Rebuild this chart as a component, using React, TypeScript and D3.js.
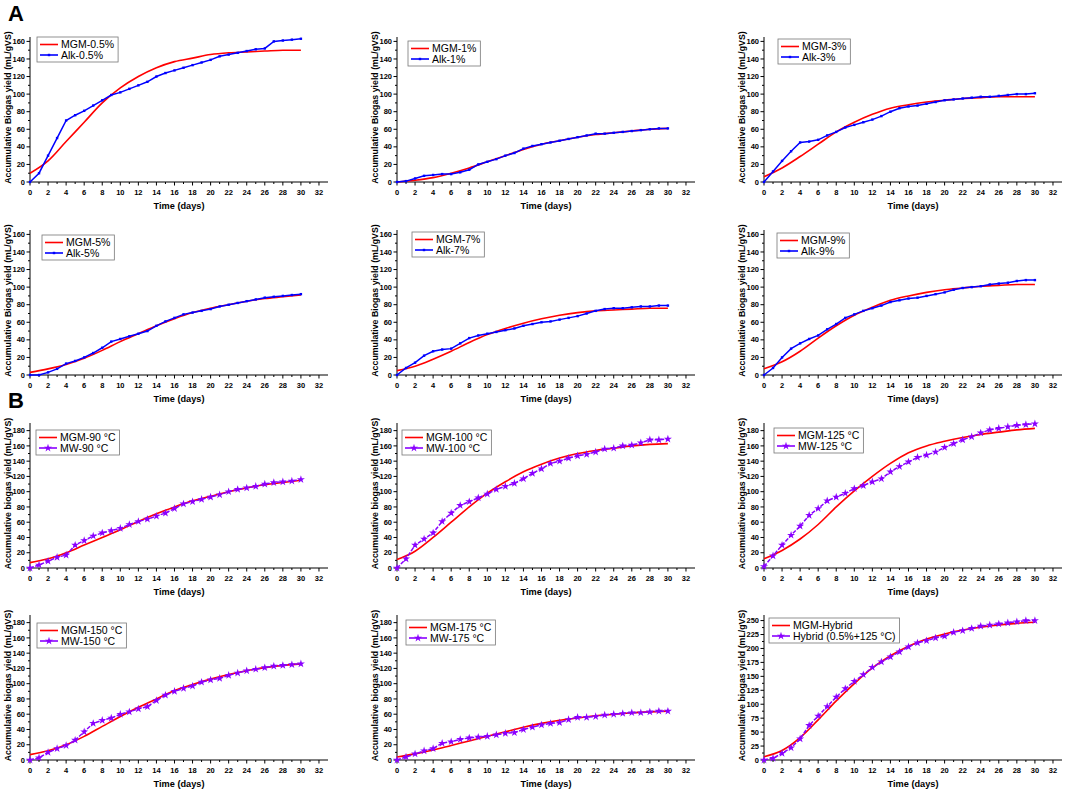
import * as d3 from "d3";

const W = 1065;
const H = 790;

// daily sampling days for the measured series, every other day for the fitted model
const days = [0, 1, 2, 3, 4, 5, 6, 7, 8, 9, 10, 11, 12, 13, 14, 15, 16, 17, 18, 19, 20, 21, 22, 23, 24, 25, 26, 27, 28, 29, 30];
const modelDays = [0, 2, 4, 6, 8, 10, 12, 14, 16, 18, 20, 22, 24, 26, 28, 30];

const xTicks = [0, 2, 4, 6, 8, 10, 12, 14, 16, 18, 20, 22, 24, 26, 28, 30, 32];
const yTicksA = [0, 20, 40, 60, 80, 100, 120, 140, 160];
const yTicksB = [0, 20, 40, 60, 80, 100, 120, 140, 160, 180];
const yTicksHybrid = [0, 25, 50, 75, 100, 125, 150, 175, 200, 225, 250];

// A: alkaline pretreatment
const alk05 = [0, 10, 30, 50, 70, 76, 81, 87, 93, 99, 102, 106, 110, 114, 120, 124, 127, 130, 133, 136, 139, 143, 145, 147, 149, 151, 152, 160, 161, 162, 163];
const mgm05 = [10, 24, 46, 68, 90, 107, 120, 130, 137, 141, 145, 147, 148, 149, 150, 150];
const alk1 = [0, 1, 4, 7, 8, 9, 9, 11, 14, 20, 23, 26, 30, 33, 38, 41, 43, 45, 47, 49, 51, 53, 55, 55, 56, 57, 58, 59, 60, 61, 61];
const mgm1 = [0, 2, 5, 10, 16, 23, 30, 37, 43, 47, 51, 54, 56, 58, 60, 61];
const alk3 = [0, 12, 24, 35, 45, 46, 48, 53, 57, 62, 65, 68, 71, 75, 80, 84, 86, 87, 89, 91, 93, 94, 95, 96, 97, 97, 98, 99, 100, 100, 101];
const mgm3 = [6, 16, 29, 43, 57, 68, 77, 84, 88, 91, 93, 95, 96, 97, 97, 97];
const alk5 = [0, 0, 3, 7, 13, 16, 20, 25, 31, 38, 41, 44, 47, 50, 56, 61, 65, 69, 71, 73, 75, 78, 80, 82, 84, 86, 88, 89, 90, 91, 92];
const mgm5 = [3, 7, 12, 19, 28, 38, 47, 56, 64, 71, 76, 80, 84, 87, 89, 91];
const alk7 = [0, 8, 14, 22, 27, 29, 30, 36, 42, 45, 47, 49, 51, 53, 56, 58, 60, 61, 63, 65, 67, 70, 73, 75, 76, 76, 77, 78, 78, 79, 79];
const mgm7 = [5, 10, 18, 27, 37, 46, 53, 59, 64, 68, 71, 73, 74, 75, 76, 76];
const alk9 = [0, 8, 20, 30, 36, 41, 45, 52, 58, 65, 69, 73, 76, 79, 83, 85, 87, 88, 90, 92, 94, 97, 99, 100, 101, 103, 104, 105, 107, 108, 108];
const mgm9 = [7, 15, 27, 42, 56, 68, 77, 85, 90, 94, 97, 99, 101, 102, 103, 103];

// B: microwave pretreatment
const mw90 = [0, 4, 9, 14, 17, 30, 36, 42, 46, 49, 52, 57, 61, 64, 68, 72, 78, 84, 87, 90, 93, 96, 100, 103, 105, 107, 110, 112, 113, 114, 116];
const mgm90 = [7, 12, 20, 30, 40, 50, 61, 71, 80, 88, 94, 100, 105, 109, 112, 115];
const mw100 = [0, 12, 30, 38, 46, 61, 72, 82, 87, 92, 97, 103, 107, 111, 117, 124, 130, 137, 140, 144, 147, 149, 152, 156, 157, 160, 161, 164, 168, 168, 169];
const mgm100 = [11, 22, 40, 60, 80, 98, 113, 126, 136, 144, 150, 154, 157, 160, 162, 163];
const mw125 = [2, 16, 30, 43, 55, 69, 78, 88, 93, 98, 104, 108, 113, 117, 126, 133, 139, 145, 148, 152, 158, 163, 168, 172, 177, 181, 183, 185, 187, 188, 189];
const mgm125 = [12, 23, 38, 57, 80, 101, 120, 137, 151, 160, 166, 171, 175, 178, 181, 183];
const mw150 = [0, 3, 10, 15, 19, 26, 37, 48, 52, 55, 60, 63, 67, 70, 78, 85, 90, 94, 97, 102, 105, 107, 111, 114, 117, 119, 121, 123, 124, 125, 126];
const mgm150 = [7, 12, 20, 31, 44, 57, 69, 80, 91, 99, 106, 112, 117, 121, 124, 126];
const mw175 = [0, 4, 8, 12, 15, 22, 24, 27, 29, 30, 31, 33, 35, 36, 40, 43, 46, 48, 49, 53, 56, 56, 57, 59, 60, 61, 62, 62, 63, 64, 64];
const mgm175 = [4, 8, 13, 19, 25, 31, 37, 43, 48, 52, 55, 58, 60, 62, 63, 64];
const hybrid = [0, 3, 12, 22, 38, 62, 79, 96, 113, 128, 141, 153, 166, 176, 185, 194, 203, 210, 214, 219, 222, 229, 232, 236, 240, 242, 244, 246, 248, 250, 250];
const mgmHybrid = [6, 17, 40, 72, 106, 137, 165, 187, 204, 217, 226, 233, 238, 242, 245, 247];

const panels = [
  { exp: alk05, model: mgm05, expName: "Alk-0.5%", modelName: "MGM-0.5%", group: "A", lx: 7, ly: 0 },
  { exp: alk1, model: mgm1, expName: "Alk-1%", modelName: "MGM-1%", group: "A", lx: 11, ly: 4 },
  { exp: alk3, model: mgm3, expName: "Alk-3%", modelName: "MGM-3%", group: "A", lx: 14, ly: 2 },
  { exp: alk5, model: mgm5, expName: "Alk-5%", modelName: "MGM-5%", group: "A", lx: 12, ly: 5 },
  { exp: alk7, model: mgm7, expName: "Alk-7%", modelName: "MGM-7%", group: "A", lx: 15, ly: 2 },
  { exp: alk9, model: mgm9, expName: "Alk-9%", modelName: "MGM-9%", group: "A", lx: 13, ly: 3 },
  { exp: mw90, model: mgm90, expName: "MW-90 °C", modelName: "MGM-90 °C", group: "B", lx: 6, ly: 7 },
  { exp: mw100, model: mgm100, expName: "MW-100 °C", modelName: "MGM-100 °C", group: "B", lx: 5, ly: 7 },
  { exp: mw125, model: mgm125, expName: "MW-125 °C", modelName: "MGM-125 °C", group: "B", lx: 10, ly: 5 },
  { exp: mw150, model: mgm150, expName: "MW-150 °C", modelName: "MGM-150 °C", group: "B", lx: 7, ly: 8 },
  { exp: mw175, model: mgm175, expName: "MW-175 °C", modelName: "MGM-175 °C", group: "B", lx: 9, ly: 5 },
  { exp: hybrid, model: mgmHybrid, expName: "Hybrid (0.5%+125 °C)", modelName: "MGM-Hybrid", group: "H", lx: 5, ly: 3 },
];

const colX = [30, 397, 764];
const rowBottom = [182, 375, 568, 760];
const plotW = 298;
const plotH = 145;

const font = "Arial, 'Liberation Sans', sans-serif";
const red = "#ff0000";
const blue = "#0000ff";
const violet = "#8a00ff";

let ctx: CanvasRenderingContext2D | null = null;
function textWidth(s: string, f: string) {
  if (!ctx) ctx = document.createElement("canvas").getContext("2d");
  if (!ctx) return s.length * 5.5;
  ctx.font = f;
  return ctx.measureText(s).width;
}

const Panel = ({ p, i }: { p: any; i: number }) => {
  const col = i % 3;
  const row = Math.floor(i / 3);
  const left = colX[col];
  const bottom = rowBottom[row];
  const yTicks = p.group === "A" ? yTicksA : p.group === "B" ? yTicksB : yTicksHybrid;
  const yMax = p.group === "A" ? 165 : p.group === "B" ? 190 : 260;
  const step = yTicks[1] - yTicks[0];
  const x = d3.scaleLinear([0, 33], [left, left + plotW]);
  const y = d3.scaleLinear([0, yMax], [bottom, bottom - plotH]);
  const expColor = p.group === "A" ? blue : violet;

  const modelLine = d3
    .line<number>()
    .x((_, k) => x(modelDays[k]))
    .y((d) => y(d))
    .curve(d3.curveMonotoneX);
  const expLine = d3
    .line<number>()
    .x((_, k) => x(days[k]))
    .y((d) => y(d));

  const yMinor = yTicks.slice(0, -1).map((t) => t + step / 2).filter((t) => t < yMax);
  const xMinor = xTicks.map((t) => t + 1).filter((t) => t < 33);
  const star = d3.symbol(d3.symbolStar, 20)() as string;

  const lf = `10.5px ${font}`;
  const lw = 28 + Math.max(textWidth(p.expName, lf), textWidth(p.modelName, lf));
  const lx0 = left + p.lx;
  const ly0 = bottom - plotH + p.ly;

  const ylabel =
    p.group === "A" ? "Accumulative Biogas yield (mL/gVS)" : "Accumulative biogas yield (mL/gVS)";

  return (
    <g fontFamily={font}>
      {/* axes */}
      <line x1={left} x2={left} y1={bottom} y2={bottom - plotH} stroke="#000" strokeWidth={1} />
      <line x1={left} x2={left + plotW} y1={bottom} y2={bottom} stroke="#000" strokeWidth={1} />
      {yTicks.map((t) => (
        <g key={"y" + t}>
          <line x1={left - 3.5} x2={left} y1={y(t)} y2={y(t)} stroke="#000" />
          <text x={left - 5} y={y(t)} dy="0.35em" textAnchor="end" fontSize={7.5} fontWeight="bold">
            {t}
          </text>
        </g>
      ))}
      {yMinor.map((t) => (
        <line key={"ym" + t} x1={left - 2} x2={left} y1={y(t)} y2={y(t)} stroke="#000" />
      ))}
      {xTicks.map((t) => (
        <g key={"x" + t}>
          <line x1={x(t)} x2={x(t)} y1={bottom} y2={bottom + 3.5} stroke="#000" />
          <text x={x(t)} y={bottom + 12.5} textAnchor="middle" fontSize={7.5} fontWeight="bold">
            {t}
          </text>
        </g>
      ))}
      {xMinor.map((t) => (
        <line key={"xm" + t} x1={x(t)} x2={x(t)} y1={bottom} y2={bottom + 2} stroke="#000" />
      ))}
      <text
        x={left + 149}
        y={bottom + 26.5}
        textAnchor="middle"
        fontSize={9.2}
        fontWeight="bold"
      >
        Time (days)
      </text>
      <text
        transform={`translate(${left - 19.5},${bottom - plotH / 2 - 2}) rotate(-90)`}
        textAnchor="middle"
        fontSize={8.8}
        fontWeight="bold"
      >
        {ylabel}
      </text>

      {/* model fit */}
      <path d={modelLine(p.model) as string} fill="none" stroke={red} strokeWidth={1.6} />
      {/* measured */}
      <path
        d={expLine(p.exp) as string}
        fill="none"
        stroke={expColor}
        strokeWidth={1.5}
        strokeDasharray={p.group === "A" ? undefined : "4,1.5"}
      />
      {p.exp.map((v: number, k: number) =>
        p.group === "A" ? (
          <rect key={k} x={x(days[k]) - 1.2} y={y(v) - 1.2} width={2.4} height={2.4} fill={expColor} />
        ) : (
          <path key={k} d={star} transform={`translate(${x(days[k])},${y(v)})`} fill={expColor} />
        )
      )}

      {/* legend */}
      <rect x={lx0} y={ly0} width={lw} height={25} fill="#fff" stroke="#777" strokeWidth={0.8} />
      <line x1={lx0 + 3} x2={lx0 + 21} y1={ly0 + 7.5} y2={ly0 + 7.5} stroke={red} strokeWidth={1.6} />
      <text x={lx0 + 24} y={ly0 + 7.5} dy="0.35em" fontSize={10.5}>
        {p.modelName}
      </text>
      <line x1={lx0 + 3} x2={lx0 + 21} y1={ly0 + 18} y2={ly0 + 18} stroke={expColor} strokeWidth={1.6} />
      {p.group === "A" ? (
        <rect x={lx0 + 10.8} y={ly0 + 16.8} width={2.4} height={2.4} fill={expColor} />
      ) : (
        <path d={star} transform={`translate(${lx0 + 12},${ly0 + 18})`} fill={expColor} />
      )}
      <text x={lx0 + 24} y={ly0 + 18} dy="0.35em" fontSize={10.5}>
        {p.expName}
      </text>
    </g>
  );
};

const App = () => {
  return (
    <div style={{ position: "absolute", left: 0, top: 0 }}>
      <svg width={W} height={H} style={{ display: "block", background: "#fff" }}>
        <rect width={W} height={H} fill="#fff" />
        <text x={8} y={21} fontFamily={font} fontSize={22} fontWeight="bold">
          A
        </text>
        <text x={8} y={408} fontFamily={font} fontSize={22} fontWeight="bold">
          B
        </text>
        {panels.map((p, i) => (
          <Panel key={i} p={p} i={i} />
        ))}
      </svg>
    </div>
  );
};

export default App;
